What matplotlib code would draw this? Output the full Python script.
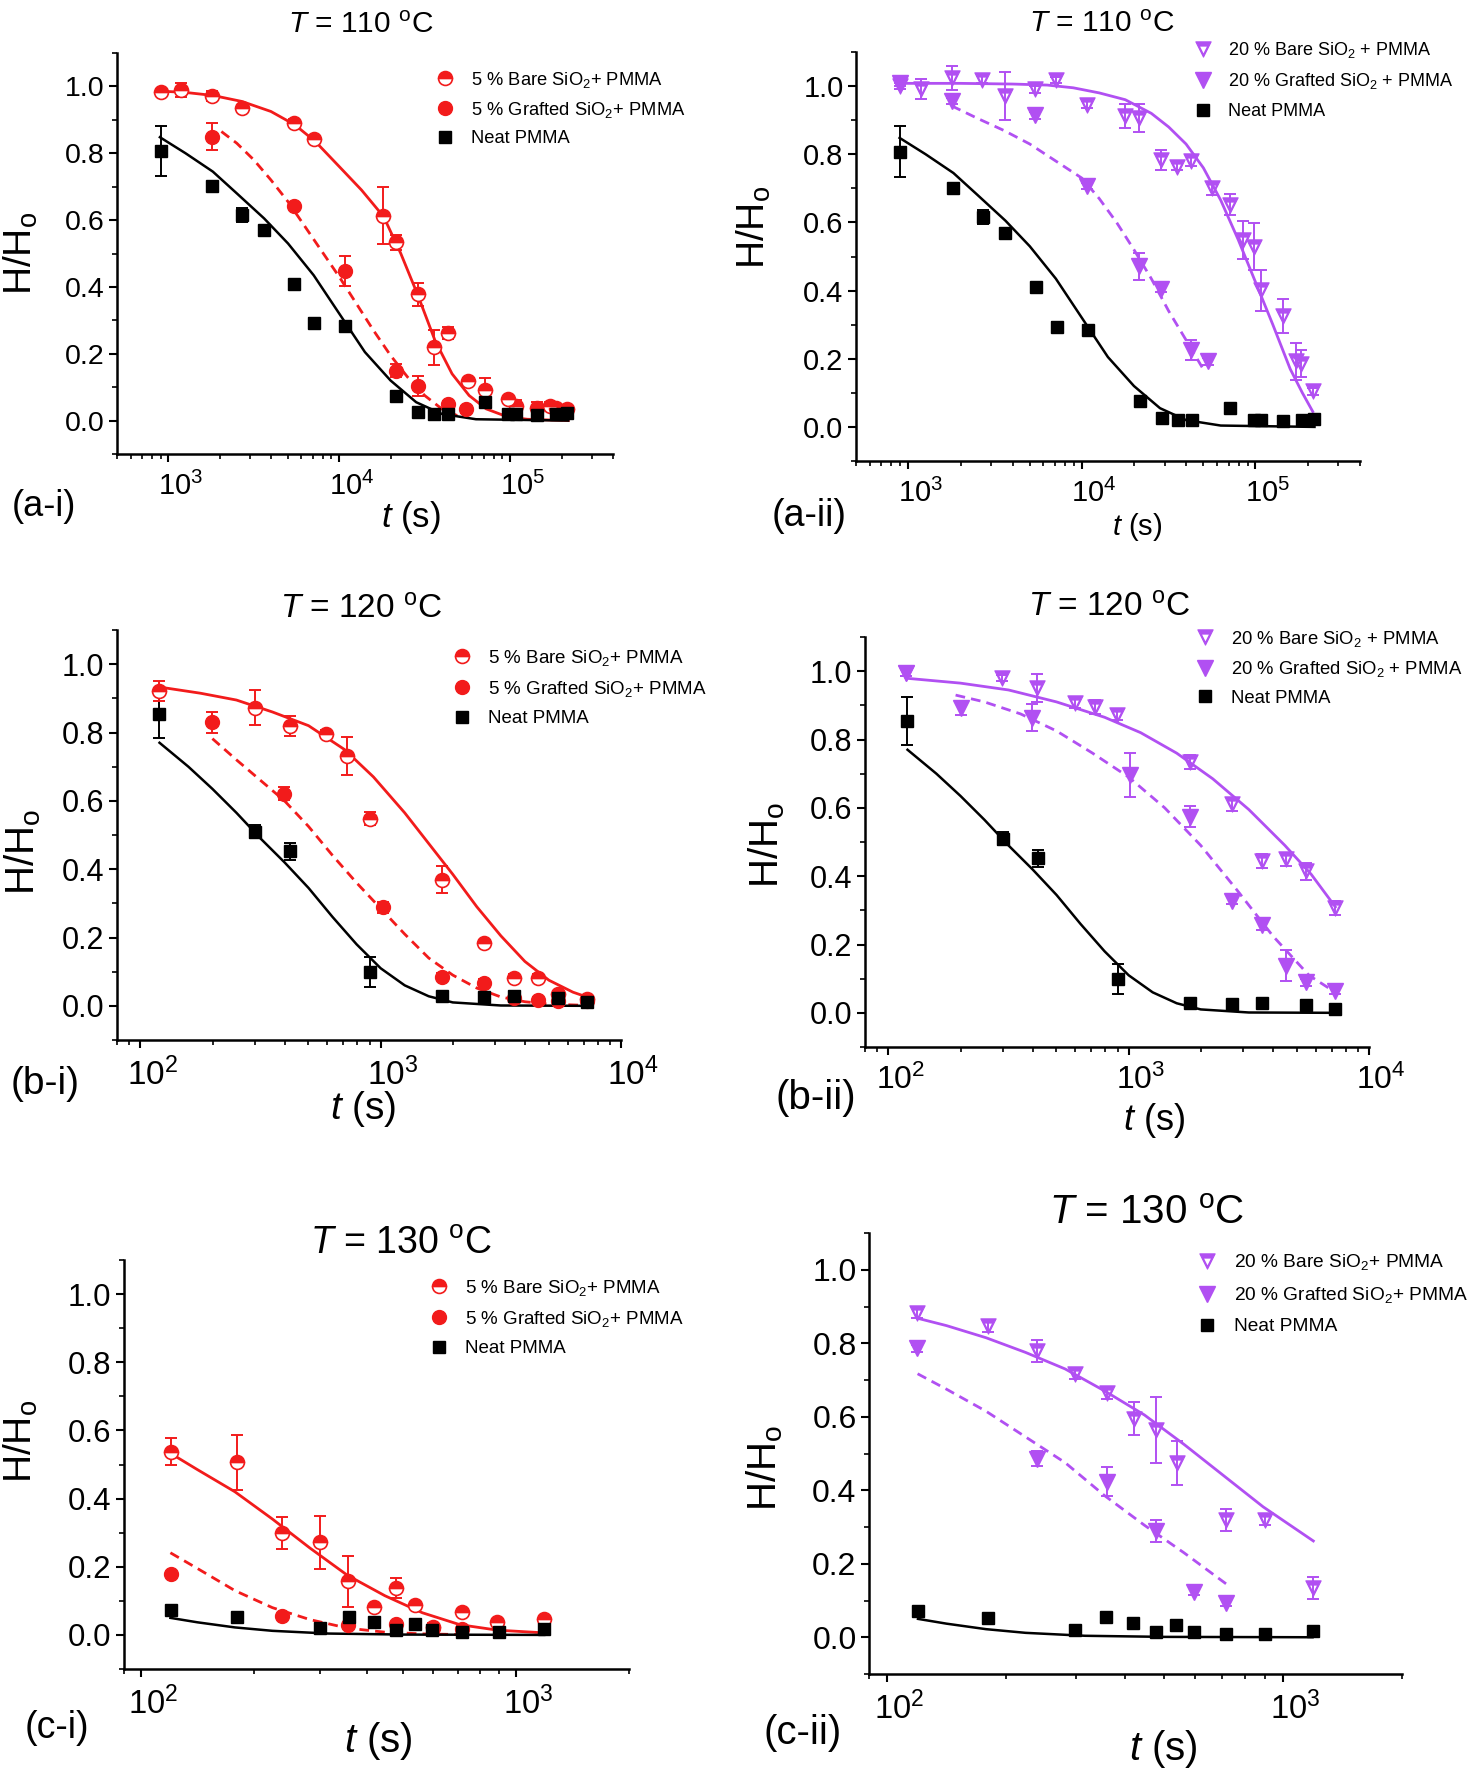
import numpy as np
import matplotlib
matplotlib.use('Agg')
import matplotlib.pyplot as plt
from matplotlib.path import Path
from matplotlib.transforms import ScaledTranslation
from matplotlib.ticker import MultipleLocator, LogLocator, NullFormatter, FormatStrFormatter

plt.rcParams['font.family'] = ['Liberation Sans', 'DejaVu Sans']
plt.rcParams['mathtext.fontset'] = 'custom'
plt.rcParams['mathtext.rm'] = 'Liberation Sans'
plt.rcParams['mathtext.it'] = 'Liberation Sans:italic'
plt.rcParams['mathtext.bf'] = 'Liberation Sans:bold'

RED = '#f21b1b'
PURPLE = '#b150f2'
W, H = 1477, 1772

# ---------------- T = 110 C ----------------
neat110_t = [900, 1800, 2680, 3620, 5420, 7150, 10800, 21500, 28800, 35600, 43000, 71500, 97800, 108000, 144500, 186000, 216000]
neat110_y = [0.808, 0.701, 0.615, 0.570, 0.410, 0.293, 0.283, 0.075, 0.027, 0.019, 0.019, 0.055, 0.021, 0.019, 0.016, 0.019, 0.023]
neat110_e = [0.075, 0.01, 0.02, 0.01, 0.01, 0.015, 0.01, 0.01, 0.01, 0.005, 0.005, 0.005, 0.005, 0.005, 0.005, 0.005, 0.005]

bare5_110_t = [900, 1190, 1800, 2680, 5420, 7150, 18000, 21500, 28800, 35600, 43000, 57000, 71500, 97800, 108000, 144500, 172000, 186000, 216000]
bare5_110_y = [0.983, 0.989, 0.972, 0.935, 0.892, 0.842, 0.613, 0.533, 0.378, 0.219, 0.261, 0.117, 0.091, 0.064, 0.043, 0.037, 0.045, 0.037, 0.034]
bare5_110_e = [0.01, 0.02, 0.015, 0.01, 0.01, 0.01, 0.085, 0.023, 0.035, 0.052, 0.018, 0.01, 0.037, 0.01, 0.018, 0.02, 0.01, 0.01, 0.01]

graft5_110_t = [1800, 5420, 10800, 21500, 28800, 43000, 55000]
graft5_110_y = [0.85, 0.643, 0.448, 0.149, 0.103, 0.05, 0.034]
graft5_110_e = [0.04, 0.01, 0.044, 0.02, 0.03, 0.01, 0.01]

bare20_110_t = [900, 1190, 1780, 2670, 3600, 5400, 7100, 10700, 17800, 21200, 28600, 35400, 42700, 56400, 71400, 84500, 97700, 107200, 143600, 170700, 184000, 214800]
bare20_110_y = [1.0, 0.992, 1.023, 1.019, 0.971, 0.99, 1.018, 0.945, 0.911, 0.906, 0.783, 0.764, 0.78, 0.70, 0.652, 0.548, 0.529, 0.401, 0.325, 0.192, 0.185, 0.105]
bare20_110_e = [0.01, 0.03, 0.035, 0.01, 0.07, 0.01, 0.01, 0.01, 0.035, 0.04, 0.03, 0.01, 0.015, 0.02, 0.03, 0.055, 0.07, 0.06, 0.05, 0.055, 0.04, 0.01]

graft20_110_t = [900, 1780, 5400, 10700, 21200, 28600, 42700, 53000]
graft20_110_y = [1.01, 0.956, 0.914, 0.707, 0.471, 0.405, 0.225, 0.192]
graft20_110_e = [0.01, 0.01, 0.01, 0.01, 0.04, 0.01, 0.03, 0.01]

# fitted curves, as (log10 t, H/Ho)
fit_neat110_lt = [2.95, 3.1, 3.26, 3.4, 3.56, 3.7, 3.85, 4.0, 4.15, 4.3, 4.45, 4.6, 4.8, 5.34]
fit_neat110_y = [0.848, 0.80, 0.745, 0.68, 0.605, 0.53, 0.435, 0.32, 0.205, 0.12, 0.055, 0.02, 0.004, 0.0]
fit_bare5_110_lt = [2.95, 3.1, 3.26, 3.43, 3.6, 3.74, 3.86, 4.0, 4.13, 4.26, 4.36, 4.46, 4.56, 4.66, 4.76, 4.86, 4.98, 5.1, 5.34]
fit_bare5_110_y = [0.986, 0.982, 0.973, 0.955, 0.925, 0.885, 0.835, 0.76, 0.69, 0.61, 0.50, 0.375, 0.24, 0.14, 0.075, 0.035, 0.012, 0.004, 0.0]
fit_graft5_110_lt = [3.31, 3.4, 3.5, 3.6, 3.7, 3.8, 3.9, 4.0, 4.1, 4.2, 4.3, 4.4, 4.5, 4.6, 4.69]
fit_graft5_110_y = [0.865, 0.83, 0.78, 0.72, 0.655, 0.58, 0.505, 0.43, 0.35, 0.27, 0.195, 0.13, 0.075, 0.035, 0.015]
fit_bare20_110_lt = [2.954, 3.3, 3.6, 3.8, 3.95, 4.1, 4.25, 4.4, 4.5, 4.6, 4.7, 4.8, 4.9, 5.0, 5.1, 5.2, 5.27, 5.33]
fit_bare20_110_y = [1.008, 1.008, 1.006, 1.003, 0.995, 0.98, 0.96, 0.92, 0.88, 0.83, 0.76, 0.665, 0.55, 0.425, 0.30, 0.17, 0.10, 0.045]
fit_graft20_110_lt = [3.25, 3.4, 3.55, 3.7, 3.85, 4.0, 4.1, 4.2, 4.3, 4.4, 4.5, 4.6, 4.71]
fit_graft20_110_y = [0.942, 0.905, 0.87, 0.83, 0.78, 0.73, 0.67, 0.60, 0.52, 0.435, 0.34, 0.255, 0.16]

# ---------------- T = 120 C ----------------
neat120_t = [120, 299, 420, 906, 1800, 2680, 3600, 5450, 7190]
neat120_y = [0.854, 0.51, 0.453, 0.099, 0.028, 0.026, 0.03, 0.023, 0.012]
neat120_e = [0.07, 0.02, 0.025, 0.045, 0.01, 0.01, 0.01, 0.01, 0.01]

bare5_120_t = [120, 299, 420, 594, 722, 906, 1800, 2680, 3600, 4510, 5450, 7190]
bare5_120_y = [0.922, 0.873, 0.819, 0.797, 0.732, 0.548, 0.369, 0.183, 0.082, 0.082, 0.034, 0.021]
bare5_120_e = [0.03, 0.05, 0.03, 0.01, 0.055, 0.02, 0.04, 0.01, 0.01, 0.01, 0.01, 0.01]

graft5_120_t = [199, 397, 1023, 1800, 2680, 3600, 4510, 5450, 7190]
graft5_120_y = [0.83, 0.621, 0.288, 0.085, 0.068, 0.023, 0.017, 0.014, 0.014]
graft5_120_e = [0.03, 0.02, 0.015, 0.01, 0.01, 0.01, 0.01, 0.01, 0.01]

bare20_120_t = [119, 298, 416, 597, 724, 895, 1800, 2700, 3590, 4500, 5460, 7230]
bare20_120_y = [0.995, 0.98, 0.951, 0.908, 0.895, 0.872, 0.734, 0.61, 0.445, 0.449, 0.414, 0.306]
bare20_120_e = [0.01, 0.01, 0.04, 0.015, 0.02, 0.015, 0.02, 0.02, 0.02, 0.02, 0.025, 0.02]

graft20_120_t = [119, 200, 397, 1016, 1800, 2700, 3590, 4500, 5460, 7230]
graft20_120_y = [0.995, 0.892, 0.864, 0.696, 0.574, 0.328, 0.257, 0.138, 0.089, 0.065]
graft20_120_e = [0.01, 0.02, 0.04, 0.065, 0.03, 0.01, 0.015, 0.045, 0.01, 0.01]

fit_neat120_lt = [2.08, 2.2, 2.3, 2.4, 2.5, 2.6, 2.7, 2.8, 2.9, 3.0, 3.1, 3.2, 3.3, 3.5, 3.87]
fit_neat120_y = [0.77, 0.70, 0.635, 0.565, 0.49, 0.42, 0.345, 0.26, 0.18, 0.11, 0.06, 0.028, 0.01, 0.001, 0.0]
fit_bare5_120_lt = [2.08, 2.25, 2.4, 2.55, 2.7, 2.85, 2.97, 3.1, 3.2, 3.3, 3.4, 3.5, 3.6, 3.7, 3.8, 3.87]
fit_bare5_120_y = [0.933, 0.915, 0.895, 0.86, 0.82, 0.75, 0.67, 0.565, 0.475, 0.385, 0.29, 0.205, 0.13, 0.075, 0.04, 0.023]
fit_graft5_120_lt = [2.3, 2.4, 2.5, 2.6, 2.7, 2.8, 2.9, 3.0, 3.1, 3.2, 3.3, 3.4, 3.5, 3.6, 3.7, 3.87]
fit_graft5_120_y = [0.782, 0.72, 0.66, 0.60, 0.525, 0.44, 0.36, 0.285, 0.21, 0.14, 0.09, 0.052, 0.026, 0.012, 0.005, 0.001]
fit_bare20_120_lt = [2.08, 2.3, 2.5, 2.7, 2.9, 3.05, 3.2, 3.35, 3.5, 3.65, 3.76, 3.86]
fit_bare20_120_y = [0.979, 0.965, 0.945, 0.91, 0.865, 0.82, 0.76, 0.685, 0.595, 0.49, 0.405, 0.31]
fit_graft20_120_lt = [2.28, 2.4, 2.55, 2.7, 2.85, 3.0, 3.15, 3.3, 3.45, 3.6, 3.75, 3.86]
fit_graft20_120_y = [0.93, 0.91, 0.875, 0.825, 0.76, 0.69, 0.60, 0.49, 0.36, 0.225, 0.11, 0.06]

# ---------------- T = 130 C ----------------
neat130_t = [120, 180, 299, 358, 418, 478, 538, 598, 718, 900, 1190]
neat130_y = [0.072, 0.053, 0.019, 0.054, 0.039, 0.014, 0.032, 0.013, 0.010, 0.008, 0.017]
neat130_e = [0.01, 0.005, 0.005, 0.005, 0.005, 0.005, 0.005, 0.005, 0.005, 0.005, 0.005]

bare5_130_t = [120, 180, 238, 299, 357, 417, 478, 537, 599, 716, 891, 1189]
bare5_130_y = [0.538, 0.506, 0.298, 0.272, 0.158, 0.081, 0.138, 0.087, 0.024, 0.066, 0.038, 0.046]
bare5_130_e = [0.04, 0.08, 0.047, 0.078, 0.075, 0.01, 0.03, 0.01, 0.01, 0.01, 0.01, 0.01]

graft5_130_t = [120, 238, 357, 478, 599, 716]
graft5_130_y = [0.178, 0.055, 0.03, 0.032, 0.021, 0.018]
graft5_130_e = [0.005, 0.005, 0.005, 0.005, 0.005, 0.005]

bare20_130_t = [119, 180, 239, 298, 360, 420, 478, 540, 719, 901, 1194]
bare20_130_y = [0.883, 0.846, 0.779, 0.717, 0.664, 0.595, 0.564, 0.474, 0.32, 0.32, 0.135]
bare20_130_e = [0.015, 0.015, 0.03, 0.015, 0.015, 0.045, 0.09, 0.06, 0.03, 0.015, 0.03]

graft20_130_t = [119, 239, 360, 478, 597, 719]
graft20_130_y = [0.786, 0.486, 0.423, 0.288, 0.124, 0.094]
graft20_130_e = [0.01, 0.02, 0.04, 0.03, 0.01, 0.01]

fit_neat130_lt = [2.078, 2.15, 2.25, 2.35, 2.5, 2.7, 3.075]
fit_neat130_y = [0.05, 0.037, 0.022, 0.012, 0.004, 0.001, 0.0]
fit_bare5_130_lt = [2.078, 2.15, 2.25, 2.35, 2.45, 2.55, 2.65, 2.75, 2.85, 2.95, 3.075]
fit_bare5_130_y = [0.533, 0.485, 0.42, 0.34, 0.255, 0.175, 0.115, 0.065, 0.03, 0.014, 0.006]
fit_graft5_130_lt = [2.078, 2.15, 2.25, 2.35, 2.45, 2.55, 2.65, 2.75, 2.86]
fit_graft5_130_y = [0.241, 0.195, 0.13, 0.08, 0.045, 0.02, 0.008, 0.003, 0.001]
fit_bare20_130_lt = [2.077, 2.15, 2.25, 2.35, 2.45, 2.55, 2.65, 2.75, 2.85, 2.95, 3.077]
fit_bare20_130_y = [0.868, 0.848, 0.815, 0.775, 0.73, 0.67, 0.605, 0.525, 0.44, 0.355, 0.262]
fit_graft20_130_lt = [2.077, 2.15, 2.25, 2.35, 2.45, 2.55, 2.65, 2.75, 2.857]
fit_graft20_130_y = [0.717, 0.675, 0.615, 0.545, 0.475, 0.385, 0.305, 0.23, 0.145]

lab5 = [r'5 % Bare SiO$_2$+ PMMA', r'5 % Grafted SiO$_2$+ PMMA', 'Neat PMMA']
lab20 = [r'20 % Bare SiO$_2$ + PMMA', r'20 % Grafted SiO$_2$ + PMMA', 'Neat PMMA']
lab20c = [r'20 % Bare SiO$_2$+ PMMA', r'20 % Grafted SiO$_2$+ PMMA', 'Neat PMMA']

# box = (left, top, right, bottom) in pixels
panels = [
    dict(box=(117, 53, 613, 454), xlim=(500, 4e5), xt=[1e3, 1e4, 1e5], col=RED, kind=5, lab=lab5,
         bare=(bare5_110_t, bare5_110_y, bare5_110_e), graft=(graft5_110_t, graft5_110_y, graft5_110_e),
         neat=(neat110_t, neat110_y, neat110_e),
         fits=[(fit_bare5_110_lt, fit_bare5_110_y), (fit_graft5_110_lt, fit_graft5_110_y), (fit_neat110_lt, fit_neat110_y)],
         title='110', tpos=(361, 25, 21.5), ylab=(21, 253, 28), tag='(a-i)', tagpos=(44, 507, 26),
         xlab=(411, 518, 25), leg=(445, 78, 13.2, 0.55), tick=(20.5, 21)),
    dict(box=(856, 52, 1360, 461), xlim=(500, 4e5), xt=[1e3, 1e4, 1e5], col=PURPLE, kind=20, lab=lab20,
         bare=(bare20_110_t, bare20_110_y, bare20_110_e), graft=(graft20_110_t, graft20_110_y, graft20_110_e),
         neat=(neat110_t, neat110_y, neat110_e),
         fits=[(fit_bare20_110_lt, fit_bare20_110_y), (fit_graft20_110_lt, fit_graft20_110_y), (fit_neat110_lt, fit_neat110_y)],
         title='110', tpos=(1102, 24, 21.5), ylab=(754, 227, 28), tag='(a-ii)', tagpos=(809, 516, 27),
         xlab=(1137, 527, 21), leg=(1203, 48, 13, 0.64), tick=(21, 21)),
    dict(box=(117, 630, 621, 1040), xlim=(80, 1e4), xt=[1e2, 1e3, 1e4], col=RED, kind=5, lab=lab5,
         bare=(bare5_120_t, bare5_120_y, bare5_120_e), graft=(graft5_120_t, graft5_120_y, graft5_120_e),
         neat=(neat120_t, neat120_y, neat120_e),
         fits=[(fit_bare5_120_lt, fit_bare5_120_y), (fit_graft5_120_lt, fit_graft5_120_y), (fit_neat120_lt, fit_neat120_y)],
         title='120', tpos=(361, 610, 24), ylab=(23, 852, 29), tag='(b-i)', tagpos=(45, 1084, 28),
         xlab=(363, 1109, 28), leg=(462, 656, 13.5, 0.6), tick=(22, 24)),
    dict(box=(865, 637, 1369, 1047), xlim=(80, 1e4), xt=[1e2, 1e3, 1e4], col=PURPLE, kind=20, lab=lab20,
         bare=(bare20_120_t, bare20_120_y, bare20_120_e), graft=(graft20_120_t, graft20_120_y, graft20_120_e),
         neat=(neat120_t, neat120_y, neat120_e),
         fits=[(fit_bare20_120_lt, fit_bare20_120_y), (fit_graft20_120_lt, fit_graft20_120_y), (fit_neat120_lt, fit_neat120_y)],
         title='120', tpos=(1109, 608, 24), ylab=(767, 845, 29), tag='(b-ii)', tagpos=(816, 1098, 29),
         xlab=(1154, 1121, 26), leg=(1205, 637, 13.3, 0.57), tick=(22, 23)),
    dict(box=(124, 1260, 629, 1669), xlim=(90, 2000), xt=[1e2, 1e3], col=RED, kind=5, lab=lab5,
         bare=(bare5_130_t, bare5_130_y, bare5_130_e), graft=(graft5_130_t, graft5_130_y, graft5_130_e),
         neat=(neat130_t, neat130_y, neat130_e),
         fits=[(fit_bare5_130_lt, fit_bare5_130_y), (fit_graft5_130_lt, fit_graft5_130_y), (fit_neat130_lt, fit_neat130_y)],
         title='130', tpos=(401, 1244, 27), ylab=(21, 1441, 28), tag='(c-i)', tagpos=(57, 1728, 27),
         xlab=(378, 1741, 29), leg=(439, 1286, 13.5, 0.6), tick=(22.5, 23.5)),
    dict(box=(869, 1233, 1402, 1674), xlim=(90, 2000), xt=[1e2, 1e3], col=PURPLE, kind=20, lab=lab20c,
         bare=(bare20_130_t, bare20_130_y, bare20_130_e), graft=(graft20_130_t, graft20_130_y, graft20_130_e),
         neat=(neat130_t, neat130_y, neat130_e),
         fits=[(fit_bare20_130_lt, fit_bare20_130_y), (fit_graft20_130_lt, fit_graft20_130_y), (fit_neat130_lt, fit_neat130_y)],
         title='130', tpos=(1147, 1213, 29), ylab=(765, 1468, 29), tag='(c-ii)', tagpos=(803, 1733, 29),
         xlab=(1163, 1749, 29), leg=(1207, 1261, 13.8, 0.67), tick=(23, 23.5)),
]

# hollow down-triangle with a filled band on top (Origin "half" triangle)
tri_outer = [(-1, 1), (1, 1), (0, -1), (-1, 1)]
tri_inner = [(-0.56, 0.45), (0, -0.66), (0.56, 0.45), (-0.56, 0.45)]
TRI_HALF = Path(tri_outer + tri_inner,
                [Path.MOVETO, Path.LINETO, Path.LINETO, Path.CLOSEPOLY,
                 Path.MOVETO, Path.LINETO, Path.LINETO, Path.CLOSEPOLY])


def fx(px):
    return px / W


def fy(py):
    return 1 - py / H


def draw_panel(fig, p):
    l, t, r, b = p['box']
    ax = fig.add_axes([fx(l), fy(b), (r - l) / W, (b - t) / H])
    c = p['col']

    # fitted curves
    fb, fg, fn = p['fits']
    ax.plot(10 ** np.asarray(fb[0]), fb[1], color=c, lw=2.0, zorder=2)
    ax.plot(10 ** np.asarray(fg[0]), fg[1], color=c, lw=2.0, ls=(0, (3.5, 2.2)), zorder=2)
    ax.plot(10 ** np.asarray(fn[0]), fn[1], color='k', lw=1.8, zorder=2)

    # error bars
    for (tt, yy, ee), ec in [(p['neat'], 'k'), (p['graft'], c), (p['bare'], c)]:
        ax.errorbar(tt, yy, yerr=ee, fmt='none', ecolor=ec, elinewidth=1.4, capsize=4, capthick=1.4, zorder=3)

    # markers
    if p['kind'] == 5:
        ax.plot(p['bare'][0], p['bare'][1], ls='none', marker='o', ms=10, color=c, mec=c, mfc=c,
                fillstyle='top', markerfacecoloralt='white', mew=1.2, label=p['lab'][0], zorder=4)
        ax.plot(p['graft'][0], p['graft'][1], ls='none', marker='o', ms=10, color=c, mec=c, mfc=c,
                mew=1.0, label=p['lab'][1], zorder=4)
    else:
        ax.plot(p['bare'][0], p['bare'][1], ls='none', marker=TRI_HALF, ms=11, color=c, mec=c, mfc=c,
                mew=0.8, label=p['lab'][0], zorder=4)
        ax.plot(p['graft'][0], p['graft'][1], ls='none', marker='v', ms=11, color=c, mec=c, mfc=c,
                mew=1.0, label=p['lab'][1], zorder=4)
    ax.plot(p['neat'][0], p['neat'][1], ls='none', marker='s', ms=8, color='k', label=p['lab'][2], zorder=5)

    ax.set_xscale('log')
    ax.set_xlim(*p['xlim'])
    ax.set_ylim(-0.1, 1.1)
    ax.yaxis.set_major_locator(MultipleLocator(0.2))
    ax.yaxis.set_minor_locator(MultipleLocator(0.1))
    ax.yaxis.set_major_formatter(FormatStrFormatter('%.1f'))
    ax.set_xticks(p['xt'])
    ax.xaxis.set_minor_locator(LogLocator(base=10, subs=np.arange(2, 10)))
    ax.xaxis.set_minor_formatter(NullFormatter())
    for s in ['top', 'right']:
        ax.spines[s].set_visible(False)
    for s in ['left', 'bottom']:
        ax.spines[s].set_linewidth(1.8)
    ax.tick_params(which='major', direction='out', length=6, width=1.5)
    ax.tick_params(which='minor', direction='out', length=3.5, width=1.2)
    ax.tick_params(axis='y', which='major', labelsize=p['tick'][0], pad=3)
    ax.tick_params(axis='x', which='major', labelsize=p['tick'][1], pad=6.5)
    # Origin puts the decade labels a little to the right of the tick
    shift = ScaledTranslation(12 / 100, 0, fig.dpi_scale_trans)
    for lab in ax.get_xticklabels():
        lab.set_transform(lab.get_transform() + shift)

    # legend
    lx, ly, lfs, lsp = p['leg']
    fpx = lfs * 100 / 72
    ax.legend(loc='upper left', bbox_to_anchor=(fx(lx - 0.5 * fpx), fy(ly - 0.45 * fpx)),
              bbox_transform=fig.transFigure, frameon=False, fontsize=lfs, numpoints=1,
              borderpad=0, borderaxespad=0, handlelength=1.0, handletextpad=0.9, labelspacing=lsp)

    # texts
    x, y, s = p['tpos']
    fig.text(fx(x), fy(y), r'$\mathit{T}$ = ' + p['title'] + r' $^{\mathrm{o}}$C', ha='center', va='center', fontsize=s)
    x, y, s = p['ylab']
    fig.text(fx(x), fy(y), r'H/H$_{\mathrm{o}}$', rotation=90, ha='center', va='center', fontsize=s)
    x, y, s = p['tagpos']
    fig.text(fx(x), fy(y), p['tag'], ha='center', va='center', fontsize=s)
    x, y, s = p['xlab']
    fig.text(fx(x), fy(y), r'$\mathit{t}$ (s)', ha='center', va='center', fontsize=s)
    return ax


if __name__ == '__main__':
    fig = plt.figure(figsize=(W / 100, H / 100), dpi=100)
    for p in panels:
        draw_panel(fig, p)
    fig.savefig('out.png', dpi=100)
    plt.close(fig)
